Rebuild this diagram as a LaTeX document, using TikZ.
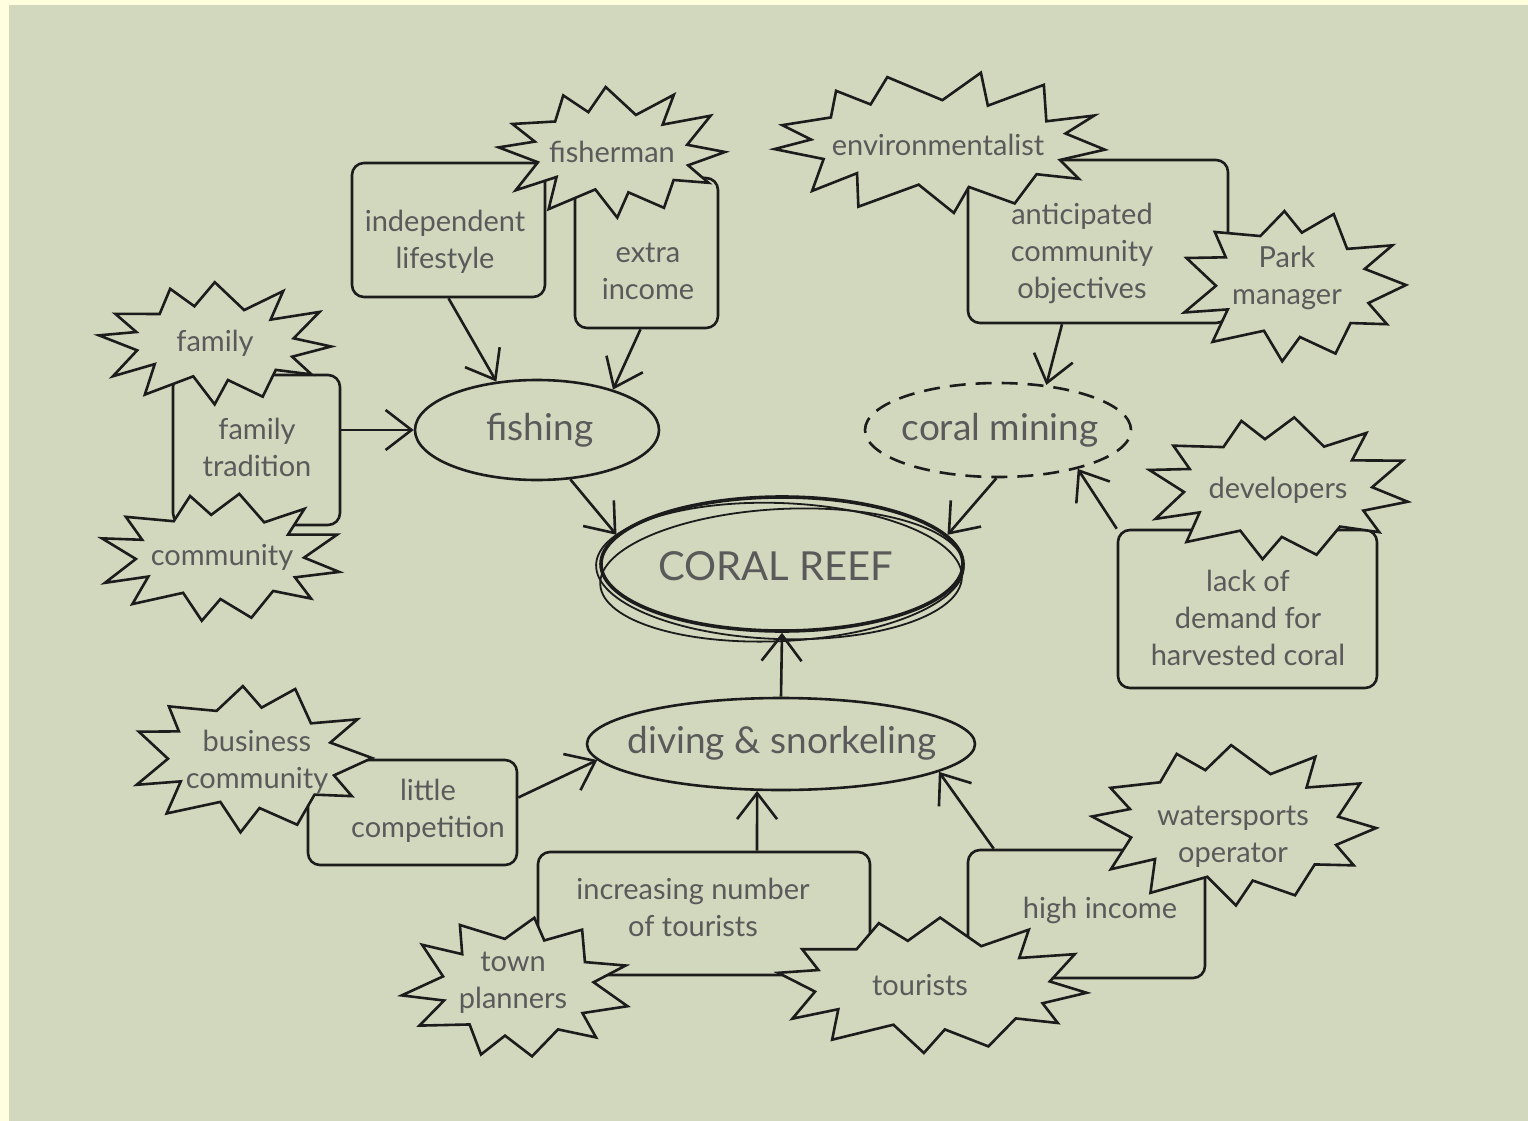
\documentclass[tikz,border=0pt]{standalone}
\usepackage{fontspec}
\setmainfont{Lato}
\usetikzlibrary{arrows.meta,shapes.geometric}

\definecolor{bgGreen}{HTML}{D1D8BE}
\definecolor{cream}{HTML}{FFFFDD}
\definecolor{ink}{HTML}{1C1C1C}
\definecolor{pencil}{HTML}{5A5A5A}

% explosion outline: cx, cy, rx, ry, last vertex index (2n-1), phase, spike depth
\newcommand\burst[7]{%
  \filldraw[burst] plot[samples at={0,...,#5}, variable=\k]
    ({#1+(#3-#7*mod(\k,2)+3*sin(\k*151+2*#6))*cos(\k*360/(#5+1)+#6+4*sin(\k*97+#6))},
     {#2+(#4-0.78*#7*mod(\k,2)+3*sin(\k*151+2*#6))*sin(\k*360/(#5+1)+#6+4*sin(\k*97+#6))}) -- cycle;
}

\tikzset{
  box/.style={draw=ink, line width=2.6pt, rounded corners=12pt, fill=bgGreen, inner sep=0pt},
  label/.style={text=pencil, font=\fontsize{29}{37}\selectfont, align=center, inner sep=0pt},
  burst/.style={draw=ink, fill=bgGreen, line width=2.6pt, line join=miter},
  topic/.style={draw=ink, line width=2.6pt, ellipse, inner sep=0pt},
  topictext/.style={text=pencil, inner sep=0pt, font=\fontsize{37}{44}\selectfont},
  link/.style={draw=ink, line width=2.6pt,
               -{Straight Barb[length=26pt,width=40pt,line width=2.6pt]}},
  stroke/.style={draw=ink, line width=1.8pt},
}

\begin{document}
\begin{tikzpicture}[x=1pt,y=-1pt]
  \useasboundingbox (0,0) rectangle (1528,1121);
  \fill[cream] (0,0) rectangle (1528,1121);
  \fill[bgGreen] (9,5) rectangle (1528,1121);

  % boxes
  \node[box, minimum width=193pt, minimum height=134pt] (indep)   at (448.5,230) {};
  \node[box, minimum width=143pt, minimum height=150pt] (extra)   at (646.5,253) {};
  \node[box, minimum width=167pt, minimum height=150pt] (famtrad) at (256.5,450) {};
  \node[box, minimum width=260pt, minimum height=163pt] (antic)   at (1098,241.5) {};
  \node[box, minimum width=259pt, minimum height=158pt] (lack)    at (1247.5,609) {};
  \node[box, minimum width=209pt, minimum height=105pt] (little)  at (412.5,812.5) {};
  \node[box, minimum width=332pt, minimum height=123pt] (inc)     at (704,913.5) {};
  \node[box, minimum width=237pt, minimum height=128pt] (high)    at (1086.5,914) {};

  % explosions
  \burst{612}{152}{113}{66}{23}{0}{34}
  \burst{215}{343}{116}{62}{23}{3}{34}
  \burst{220}{557}{121}{66}{23}{12}{34}
  \burst{940}{143}{165}{71}{25}{5}{36}
  \burst{1293}{285}{113}{77}{21}{0}{34}
  \burst{1278}{488}{131}{73}{23}{10}{34}
  \burst{252}{758}{120}{75}{21}{0}{34}
  \burst{517}{987}{113}{73}{21}{14}{34}
  \burst{932}{985}{155}{69}{23}{6}{34}
  \burst{1234}{825}{142}{81}{23}{2}{34}

  % labels
  \node[label] (lfisher)  at (612,152)  {fisherman};
  \node[label] (lindep)   at (445,242)  {independent\\lifestyle};
  \node[label] (lextra)   at (648,271)  {extra\\income};
  \node[label] (lfamily)  at (215,343)  {family};
  \node[label] (lfamtrad) at (257,447)  {family\\tradition};
  \node[label] (lcommun)  at (222,557)  {community};
  \node[label] (lenviro)  at (938,145)  {environmentalist};
  \node[label] (lantic)   at (1082,253) {anticipated\\community\\objectives};
  \node[label] (lpark)    at (1287,278) {Park\\manager};
  \node[label] (ldevel)   at (1278,490) {developers};
  \node[label] (llack)    at (1248,618) {lack of\\demand for\\harvested coral};
  \node[label] (lbusin)   at (257,762)  {business\\community};
  \node[label] (llittle)  at (428,811)  {little\\competition};
  \node[label] (linc)     at (693,907)  {increasing number\\of tourists};
  \node[label] (ltown)    at (513,983)  {town\\planners};
  \node[label] (ltourist) at (920,985)  {tourists};
  \node[label] (lhigh)    at (1100,910) {high income};
  \node[label] (lwater)   at (1233,837) {watersports\\operator};

  % activities
  \node[topic, minimum width=244pt, minimum height=100pt] (fish) at (537,430) {};
  \node[topictext] (tfish) at (540,430) {fishing};
  \node[topic, dash pattern=on 16pt off 10pt, minimum width=266pt, minimum height=94pt]
       (mine) at (998,430) {};
  \node[topictext] (tmine) at (1000,430) {coral mining};
  \node[topic, minimum width=388pt, minimum height=92pt] (dive) at (781,744) {};
  \node[topictext] (tdive) at (782,743) {diving \& snorkeling};

  % the reef, drawn with several sketchy strokes
  \node[topic, line width=3.6pt, minimum width=362pt, minimum height=134pt] (reef) at (782,564) {};
  \draw[stroke] ([shift={(-3,7)}]reef.center) ellipse[x radius=183pt, y radius=68pt, rotate=-2];
  \draw[stroke] ([shift={(0,11)}]reef.center) ellipse[x radius=182pt, y radius=66pt, rotate=3];
  \node[topictext, font=\fontsize{40}{48}\selectfont] (treef) at (776,566) {CORAL REEF};

  % influences
  \draw[link] (indep.south) -- (fish.130);
  \draw[link] ([xshift=-6pt]extra.south) -- (fish.28);
  \draw[link] (famtrad.east |- fish.west) -- (fish.west);
  \draw[link] (fish.-56) -- (reef.170);
  \draw[link] ([xshift=-36pt]antic.south) -- (mine.43);
  \draw[link] (lack.north west) -- (mine.-26);
  \draw[link] (mine.-92) -- (reef.10);
  \draw[link] (dive.north) -- (reef.south);
  \draw[link] ([yshift=15pt]little.east) -- (dive.185);
  \draw[link] ([xshift=53pt]inc.north) -- (dive.243);
  \draw[link] ([xshift=27pt]high.north west) -- (dive.-10);
\end{tikzpicture}
\end{document}
